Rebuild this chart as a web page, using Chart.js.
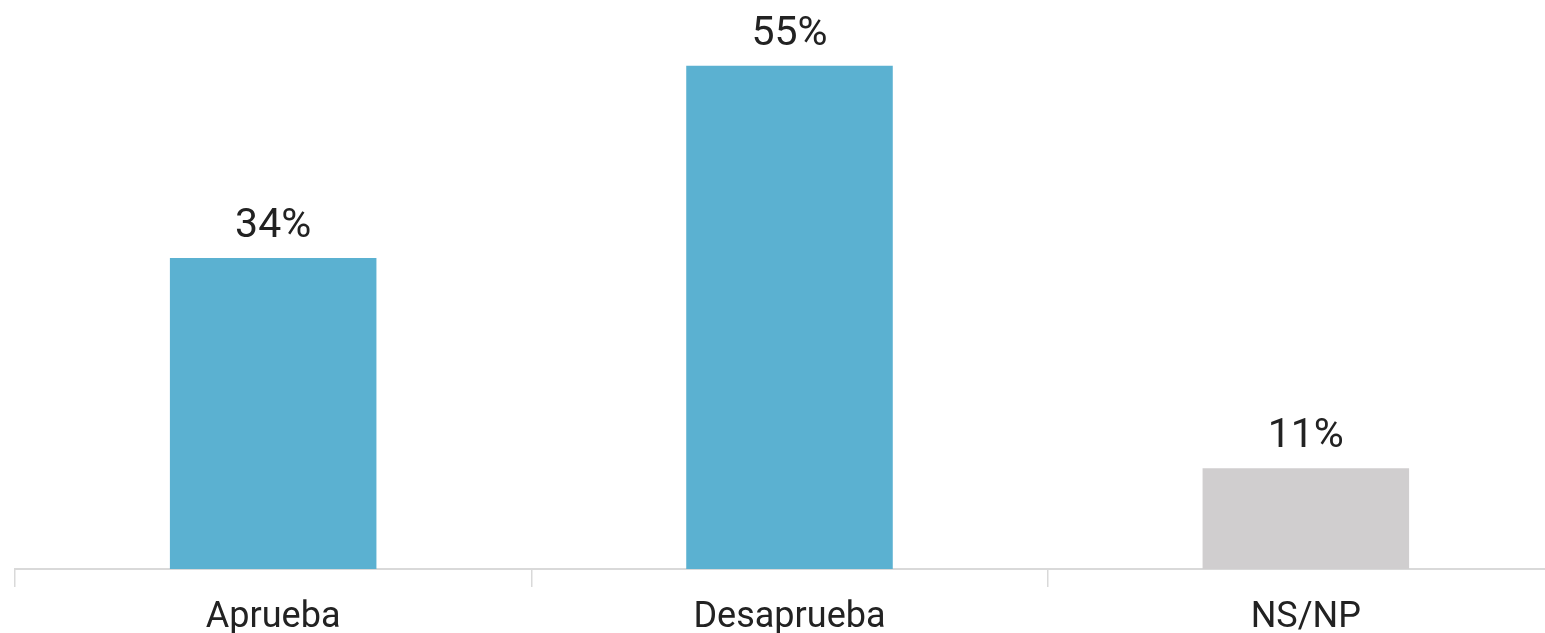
<!DOCTYPE html>
<html>
<head>
<meta charset="utf-8">
<script src="https://cdn.jsdelivr.net/npm/chart.js@4/dist/chart.umd.min.js"></script>
<style>
  html, body { margin: 0; padding: 0; background: #fff; overflow: hidden; }
  #wrap { position: relative; width: 1578px; height: 633px; }
</style>
</head>
<body>
<div id="wrap"><canvas id="c"></canvas></div>
<script>
const categories = ["Aprueba", "Desaprueba", "NS/NP"];
const values = [34, 55, 11];
const barColors = ["#5bb1d1", "#5bb1d1", "#d0cecf"];

const valueLabels = {
  id: 'valueLabels',
  afterDatasetsDraw(chart) {
    const ctx = chart.ctx;
    const meta = chart.getDatasetMeta(0);
    ctx.save();
    ctx.font = '41px Roboto';
    ctx.fillStyle = '#222222';
    ctx.textAlign = 'center';
    ctx.textBaseline = 'alphabetic';
    meta.data.forEach((bar, i) => {
      ctx.fillText(values[i] + '%', bar.x, bar.y - 21);
    });
    ctx.restore();
  }
};

new Chart(document.getElementById('c'), {
  type: 'bar',
  data: {
    labels: categories,
    datasets: [{
      data: values,
      backgroundColor: barColors,
      borderWidth: 0,
      categoryPercentage: 1,
      barPercentage: 0.4
    }]
  },
  options: {
    responsive: true,
    maintainAspectRatio: false,
    devicePixelRatio: 1,
    animation: false,
    layout: { padding: { top: 20, left: 15, right: 14, bottom: 0 } },
    plugins: { legend: { display: false }, tooltip: { enabled: false } },
    scales: {
      x: {
        offset: true,
        afterFit(scale) { scale.height = 64; },
        grid: { display: true, drawOnChartArea: false, drawTicks: true, tickLength: 18, color: '#d9d9d9', lineWidth: 1.5 },
        border: { display: true, color: '#d9d9d9', width: 2 },
        ticks: { color: '#222222', font: { family: 'Roboto', size: 36 }, padding: 9 }
      },
      y: { display: false, min: 0, max: 60 }
    }
  },
  plugins: [valueLabels]
});
</script>
</body>
</html>
